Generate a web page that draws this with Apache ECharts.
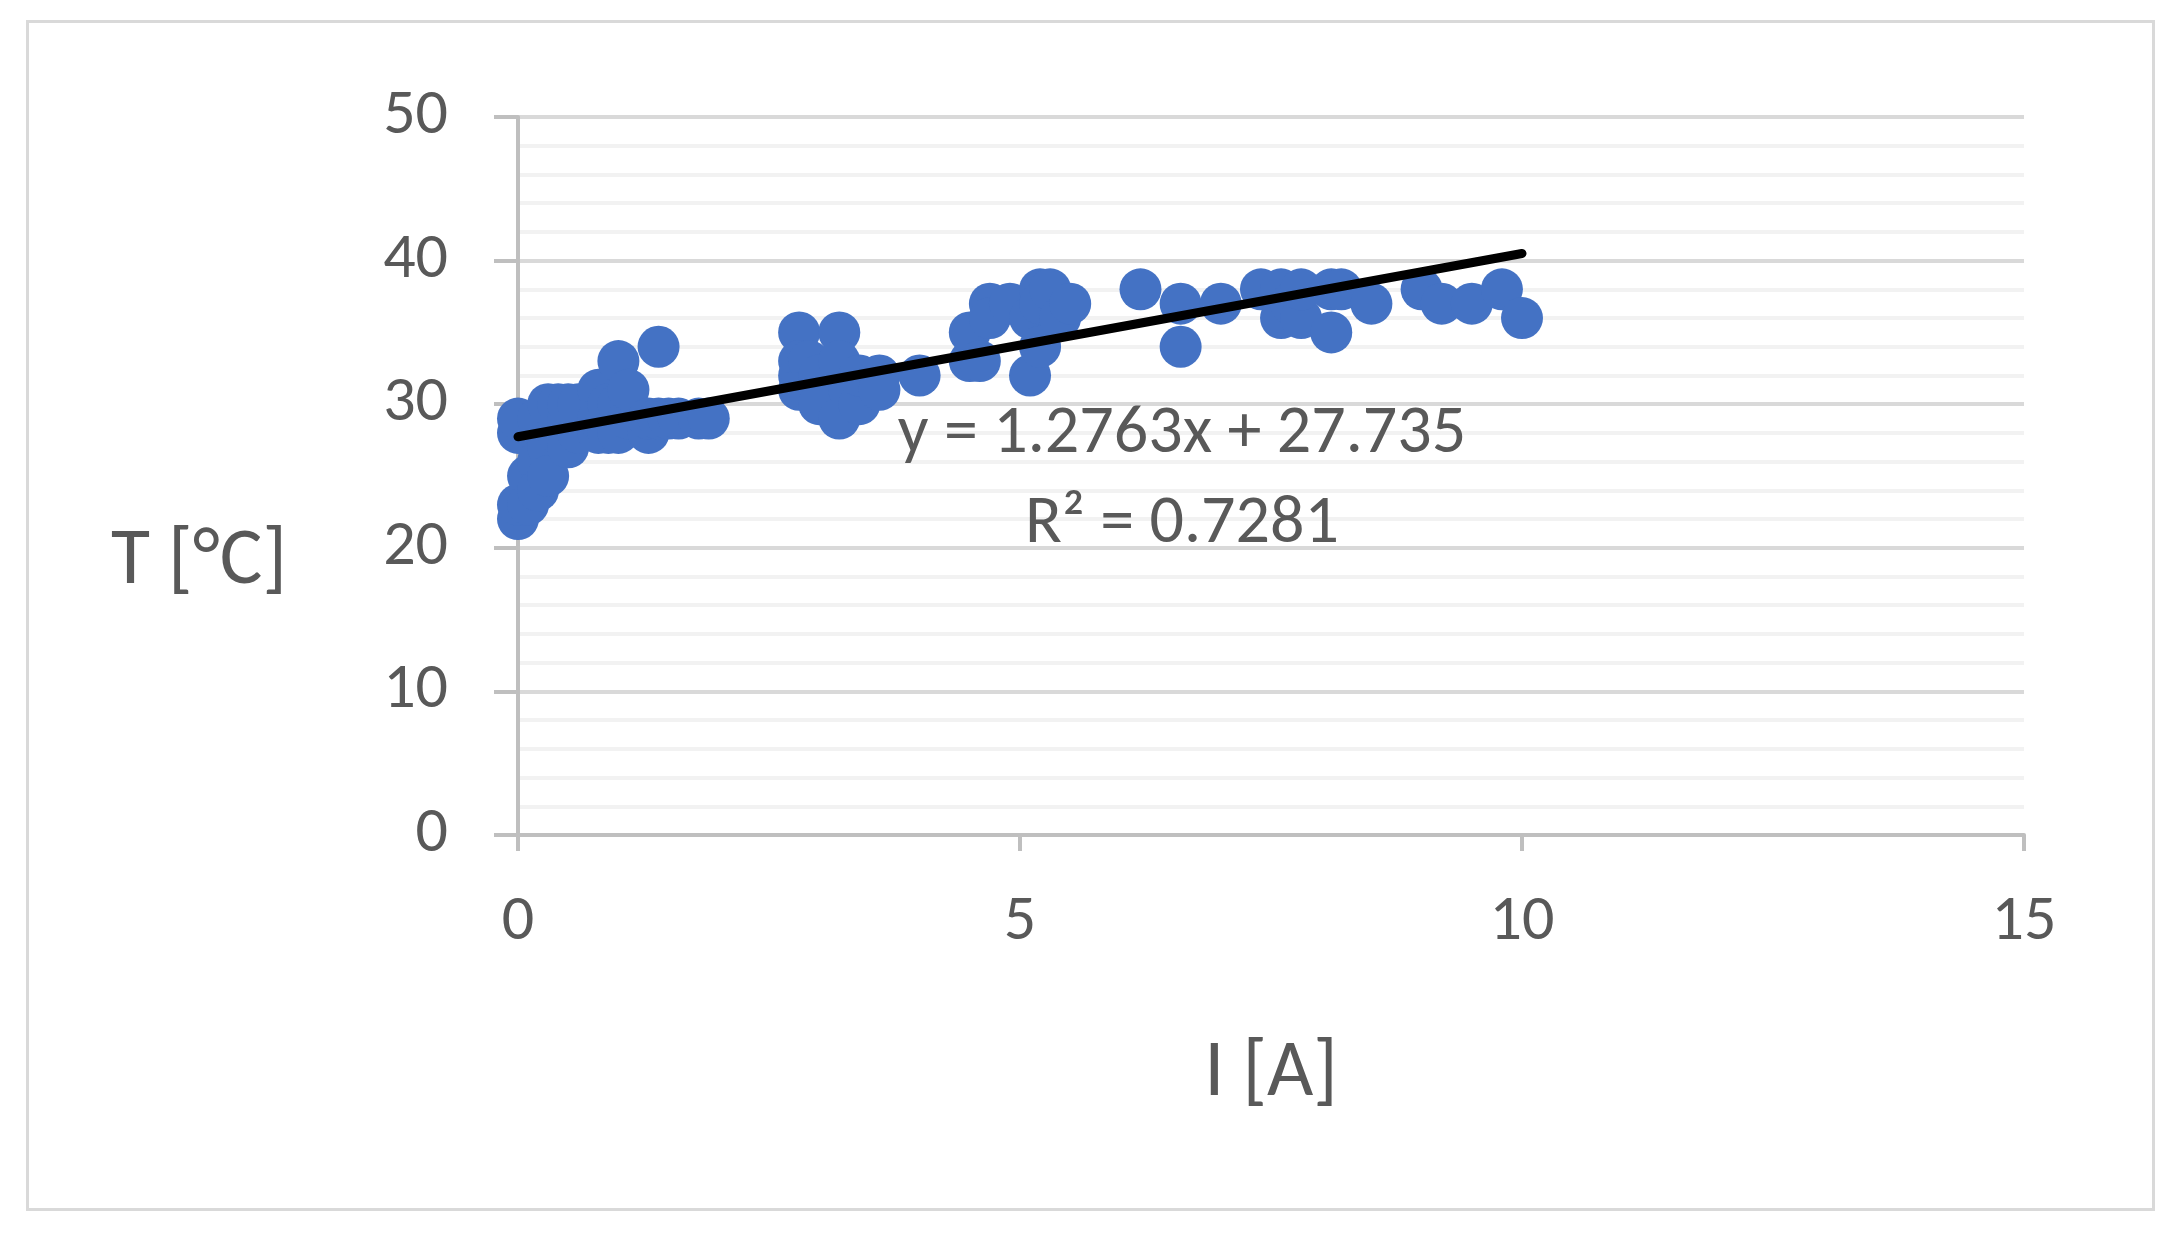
<!DOCTYPE html>
<html lang="en">
<head>
<meta charset="UTF-8"/>
<title>T vs I</title>
<script src="https://cdn.jsdelivr.net/npm/echarts@6/dist/echarts.min.js"></script>
<style>
  body { margin: 0; background: #fff; }
  #main { width: 2179px; height: 1233px; }
</style>
</head>
<body>
<div id="main"></div>
<script type="text/javascript">
// measured current [A] and temperature [°C]
var currentA = [0,0,0,0, 0.1,0.1, 0.2,0.2,0.2, 0.3,0.3,0.3, 0.4,0.4, 0.5,0.5,0.5, 0.6,0.6,
  0.8,0.8,0.8, 0.9,0.9, 1.0,1.0,1.0, 1.1,1.1, 1.3,1.3, 1.4,1.4, 1.5, 1.6, 1.8, 1.9,
  2.8,2.8,2.8,2.8, 2.9,2.9, 3.0,3.0, 3.2,3.2,3.2, 3.3, 3.4,3.4, 3.6,3.6, 4.0,
  4.5,4.5, 4.6, 4.7,4.7, 4.9, 5.1,5.1, 5.2,5.2,5.2, 5.3, 5.4, 5.5,
  6.2, 6.6,6.6, 7.0, 7.4, 7.6,7.6, 7.7, 7.8,7.8, 8.1,8.1, 8.2, 8.5, 9.0, 9.2, 9.5, 9.8, 10.0];
var tempC = [22,23,28,29, 25,23, 26,24,29, 27,30,25, 28,30, 29,30,27, 28,30,
  31,28,29, 30,28, 33,28,30, 29,31, 28,29, 34,29, 29, 29, 29, 29,
  35,33,32,31, 33,31, 32,30, 35,29,33, 31, 30,32, 32,31, 32,
  33,35, 33, 37,36, 37, 32,36, 38,37,34, 38, 36, 37,
  38, 34,37, 37, 38, 36,38, 37, 36,38, 35,38, 38, 37, 38, 37, 37, 38, 36];

// linear trendline shown in the chart
var slope = 1.2763;
var intercept = 27.735;
var trendX = [0, 10];

var points = currentA.map(function (x, i) { return [x, tempC[i]]; });
var trend = trendX.map(function (x) { return [x, slope * x + intercept]; });

var myChart = echarts.init(document.getElementById('main'));
var axisGray = '#bfbfbf';
var textGray = '#595959';
var font = 'Calibri, "Open Sans", "Liberation Sans", sans-serif';

option = {
  backgroundColor: '#fff',
  animation: false,
  grid: { left: 518, right: 155, top: 117, bottom: 398 },
  xAxis: {
    type: 'value', min: 0, max: 15, interval: 5,
    name: 'I [A]', nameLocation: 'middle', nameGap: 200,
    nameTextStyle: { fontSize: 80, color: textGray, fontFamily: font },
    axisLine: { lineStyle: { color: axisGray, width: 4 } },
    axisTick: { show: true, length: 16, lineStyle: { color: axisGray, width: 4 } },
    axisLabel: { fontSize: 64, color: textGray, fontFamily: font, margin: 56 },
    splitLine: { show: false }
  },
  yAxis: {
    type: 'value', min: 0, max: 50, interval: 10,
    axisLine: { show: true, lineStyle: { color: axisGray, width: 4 } },
    axisTick: { show: true, length: 24, lineStyle: { color: axisGray, width: 4 } },
    axisLabel: { fontSize: 64, color: textGray, fontFamily: font, margin: 70 },
    splitLine: { lineStyle: { color: '#d9d9d9', width: 4 } },
    minorTick: { show: false, splitNumber: 5 },
    minorSplitLine: { show: true, lineStyle: { color: '#f2f2f2', width: 4 } }
  },
  graphic: [
    { type: 'rect', left: 25, top: 19, shape: { width: 2126, height: 1188 },
      style: { fill: 'none', stroke: '#d9d9d9', lineWidth: 3 }, silent: true },
    { type: 'text', z: 100, x: 199, y: 563,
      style: { text: 'T [°C]', fontSize: 80, fill: textGray, fontFamily: font, align: 'center', verticalAlign: 'middle' } },
    { type: 'text', z: 100, x: 1182, y: 435,
      style: { text: 'y = 1.2763x + 27.735', fontSize: 68, fill: textGray, fontFamily: font, align: 'center', verticalAlign: 'middle' } },
    { type: 'text', z: 100, x: 1182, y: 525,
      style: { text: 'R² = 0.7281', fontSize: 68, fill: textGray, fontFamily: font, align: 'center', verticalAlign: 'middle' } }
  ],
  series: [
    {
      type: 'scatter', data: points, symbolSize: 42,
      itemStyle: { color: '#4472c4', opacity: 1 }
    },
    {
      type: 'line', data: trend, symbol: 'none', z: 5,
      lineStyle: { color: '#000', width: 9, cap: 'round' }
    }
  ]
};

myChart.setOption(option);
</script>
</body>
</html>
